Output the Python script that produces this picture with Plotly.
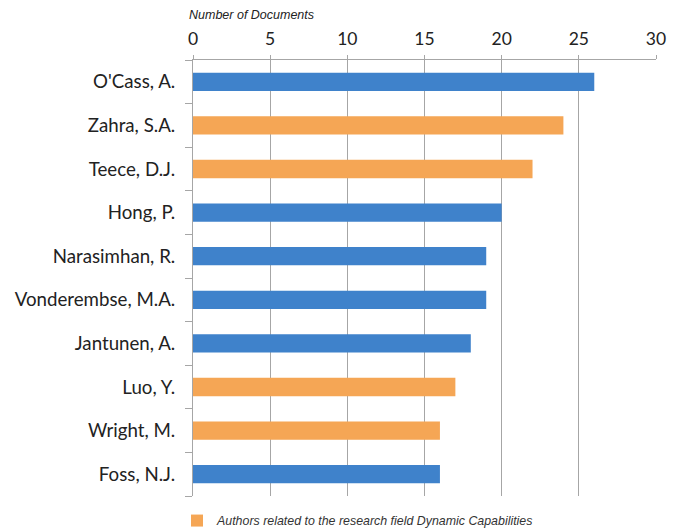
import plotly.graph_objects as go

authors = ["O'Cass, A.", "Zahra, S.A.", "Teece, D.J.", "Hong, P.", "Narasimhan, R.",
           "Vonderembse, M.A.", "Jantunen, A.", "Luo, Y.", "Wright, M.", "Foss, N.J."]
documents = [26, 24, 22, 20, 19, 19, 18, 17, 16, 16]
dynamic_cap = [False, True, True, False, False, False, False, True, True, False]
legend_label = "Authors related to the research field Dynamic Capabilities"
axis_title = "Number of Documents"

blue = "#3f82cb"
orange = "#f5a655"

blue_y = [a for a, d in zip(authors, dynamic_cap) if not d]
blue_x = [v for v, d in zip(documents, dynamic_cap) if not d]
orange_y = [a for a, d in zip(authors, dynamic_cap) if d]
orange_x = [v for v, d in zip(documents, dynamic_cap) if d]

# page body has an 8px default margin, so the figure is sized to fill the rest
W, H = 673, 521

fig = go.Figure()
fig.add_trace(go.Bar(y=blue_y, x=blue_x, orientation="h", marker=dict(color=blue, line=dict(width=0)),
                     width=0.42, showlegend=False, name="Other authors"))
fig.add_trace(go.Bar(y=orange_y, x=orange_x, orientation="h", marker=dict(color=orange, line=dict(width=0)),
                     width=0.42, showlegend=True, name=legend_label))

fig.update_layout(
    width=W, height=H,
    margin=dict(l=185, r=25, t=52, b=33, autoexpand=False),
    paper_bgcolor="white", plot_bgcolor="white",
    barmode="overlay",
    font=dict(family="Lato, Open Sans, sans-serif", color="#222222"),
    xaxis=dict(side="top", range=[0, 30], tickvals=[0, 5, 10, 15, 20, 25, 30],
               showgrid=True, gridcolor="#a6a6a6", gridwidth=1,
               showline=True, linecolor="#a6a6a6", linewidth=1,
               ticks="outside", ticklen=4, tickcolor="#a6a6a6",
               ticklabelstandoff=3, automargin=False,
               tickfont=dict(size=17.5, color="#222222", family="Lato, sans-serif"),
               zeroline=False, fixedrange=True),
    yaxis=dict(categoryorder="array", categoryarray=authors[::-1], type="category",
               tickson="boundaries", ticks="outside", ticklen=7, tickcolor="#a6a6a6",
               showline=True, linecolor="#a6a6a6", linewidth=1, showgrid=False,
               ticklabelstandoff=13, automargin=False,
               tickfont=dict(size=18.7, color="#222222", family="Lato, sans-serif"),
               fixedrange=True),
    legend=dict(orientation="h", xref="container", x=169 / W, xanchor="left",
                yref="container", y=1 - 513 / H, yanchor="middle",
                font=dict(size=12.4, family="Liberation Sans, Arial, sans-serif", color="#333333", style="italic"),
                bgcolor="rgba(0,0,0,0)"),
    annotations=[dict(text=axis_title, xref="paper", yref="paper", x=-0.013, y=1.103,
                      xanchor="left", yanchor="middle", showarrow=False,
                      font=dict(size=12.5, family="Liberation Sans, Arial, sans-serif", style="italic", color="#222222"))],
    showlegend=True,
)

fig.write_html("out.html")
